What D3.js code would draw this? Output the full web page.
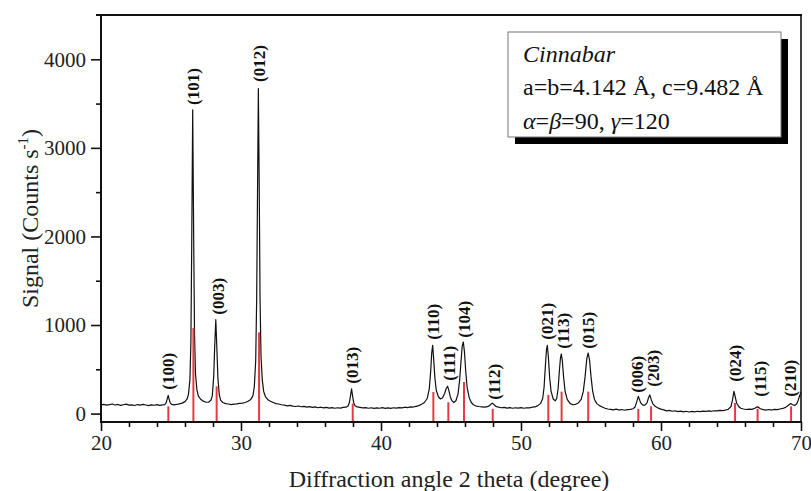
<!DOCTYPE html>
<html><head><meta charset="utf-8">
<script src="https://cdn.jsdelivr.net/npm/d3@7"></script>
<style>body{margin:0;background:#fff}</style></head>
<body><svg id="c" width="811" height="491"></svg>
<script>
// XRD profile: [2theta (deg), signal (counts/s)]
const profile = [
[20.0,98],[20.2,104],[20.4,95],[20.6,101],[20.8,108],[21.0,97],[21.2,103],[21.4,92],[21.6,100],[21.8,106],
[22.0,96],[22.2,99],[22.4,91],[22.6,102],[22.8,95],[23.0,104],[23.2,97],[23.4,90],[23.6,99],[23.8,94],
[24.0,101],[24.2,93],[24.4,98],[24.55,100],[24.65,120],[24.72,160],[24.8,205],[24.88,155],[24.95,118],[25.05,104],
[25.2,98],[25.4,103],[25.6,110],[25.8,118],[26.0,135],[26.15,165],[26.25,220],[26.35,380],[26.42,800],[26.48,1900],
[26.55,3430],[26.62,2000],[26.68,900],[26.75,450],[26.85,270],[26.95,200],[27.1,165],[27.3,140],[27.5,128],[27.7,130],
[27.85,150],[27.95,200],[28.05,420],[28.12,750],[28.2,1060],[28.28,720],[28.35,400],[28.45,210],[28.55,150],[28.7,125],
[28.9,112],[29.1,108],[29.3,102],[29.5,106],[29.7,110],[29.9,115],[30.1,118],[30.3,125],[30.5,140],[30.7,160],
[30.85,200],[30.95,300],[31.05,600],[31.12,1300],[31.18,2500],[31.24,3670],[31.3,2600],[31.36,1300],[31.43,650],[31.52,380],
[31.62,250],[31.75,190],[31.9,160],[32.1,140],[32.3,125],[32.5,112],[32.7,108],[32.9,100],[33.1,95],[33.3,88],
[33.5,92],[33.7,84],[33.9,80],[34.1,86],[34.3,77],[34.5,82],[34.7,73],[34.9,78],[35.1,70],[35.3,76],
[35.5,66],[35.7,72],[35.9,64],[36.1,70],[36.3,62],[36.5,68],[36.7,60],[36.9,66],[37.1,62],[37.3,70],
[37.5,72],[37.65,85],[37.75,130],[37.85,230],[37.9,278],[37.97,200],[38.05,120],[38.15,88],[38.3,75],[38.5,70],
[38.7,64],[38.9,68],[39.1,60],[39.3,66],[39.5,58],[39.7,64],[39.9,60],[40.1,67],[40.3,59],[40.5,64],
[40.7,58],[40.9,66],[41.1,62],[41.3,68],[41.5,64],[41.7,72],[41.9,68],[42.1,76],[42.3,74],[42.5,82],
[42.7,90],[42.9,105],[43.1,125],[43.3,170],[43.45,280],[43.55,480],[43.62,680],[43.69,770],[43.76,620],[43.85,400],
[43.95,260],[44.1,190],[44.25,165],[44.4,180],[44.55,230],[44.65,280],[44.76,308],[44.85,260],[44.95,190],[45.05,150],
[45.2,125],[45.35,145],[45.5,220],[45.62,380],[45.72,600],[45.8,760],[45.88,808],[45.96,700],[46.05,480],[46.15,300],
[46.3,180],[46.45,125],[46.6,100],[46.8,85],[47.0,80],[47.2,76],[47.4,72],[47.6,78],[47.75,90],[47.85,105],
[47.95,118],[48.05,105],[48.2,82],[48.4,72],[48.6,66],[48.8,70],[49.0,62],[49.2,68],[49.4,60],[49.6,66],
[49.8,62],[50.0,68],[50.2,60],[50.4,66],[50.6,64],[50.8,72],[51.0,75],[51.2,90],[51.4,115],[51.55,170],
[51.65,300],[51.75,560],[51.82,720],[51.88,770],[51.95,650],[52.05,400],[52.15,250],[52.3,165],[52.45,145],[52.55,170],
[52.65,280],[52.75,500],[52.82,630],[52.88,673],[52.95,600],[53.05,400],[53.15,250],[53.3,160],[53.5,115],[53.7,100],
[53.9,105],[54.1,120],[54.3,160],[54.45,250],[54.58,420],[54.7,620],[54.8,684],[54.9,600],[55.0,420],[55.12,250],
[55.25,160],[55.4,115],[55.6,90],[55.8,75],[56.0,60],[56.2,52],[56.4,48],[56.6,42],[56.8,50],[57.0,40],
[57.2,46],[57.4,38],[57.6,44],[57.8,48],[58.0,55],[58.15,75],[58.28,140],[58.38,195],[58.46,160],[58.55,120],
[58.7,95],[58.85,95],[59.0,120],[59.1,175],[59.2,211],[59.3,160],[59.42,110],[59.6,80],[59.8,62],[60.0,50],
[60.2,42],[60.4,30],[60.6,36],[60.8,26],[61.0,32],[61.2,22],[61.4,28],[61.6,20],[61.8,26],[62.0,18],
[62.2,24],[62.4,20],[62.6,26],[62.8,22],[63.0,28],[63.2,24],[63.4,30],[63.6,26],[63.8,32],[64.0,30],
[64.2,36],[64.4,34],[64.6,40],[64.8,48],[65.0,80],[65.1,150],[65.21,252],[65.3,190],[65.4,120],[65.55,80],
[65.7,60],[65.9,52],[66.1,46],[66.3,50],[66.5,48],[66.7,60],[66.85,75],[66.95,72],[67.1,55],[67.3,45],
[67.5,40],[67.7,46],[67.9,40],[68.1,48],[68.3,44],[68.5,52],[68.7,58],[68.9,70],[69.1,95],[69.26,113],
[69.4,100],[69.55,92],[69.7,110],[69.8,150],[69.9,200],[70.0,240]
];

// Reference (stick) pattern and Miller indices
const hkl       = ["(100)","(101)","(003)","(012)","(013)","(110)","(111)","(104)","(112)","(021)","(113)","(015)","(006)","(203)","(024)","(115)","(210)"];
const stickPos  = [24.81, 26.6, 28.26, 31.29, 37.98, 43.74, 44.81, 45.93, 47.98, 51.95, 52.9, 54.8, 58.38, 59.29, 65.29, 66.9, 69.29];
const stickInt  = [82, 966, 308, 917, 113, 244, 128, 357, 53, 211, 248, 248, 53, 82, 120, 53, 82];
// label anchors (2theta, counts at label start)
const labelPos  = [24.79, 26.57, 28.36, 31.29, 37.93, 43.71, 44.86, 45.93, 48.07, 51.84, 52.98, 54.81, 58.31, 59.45, 65.29, 67.07, 69.21];
const labelBase = [269, 3485, 1116, 3744, 337, 834, 371, 856, 157, 834, 732, 732, 236, 303, 360, 190, 190];

const xTicks = [20, 30, 40, 50, 60, 70];
const xMinor = [22, 24, 26, 28, 32, 34, 36, 38, 42, 44, 46, 48, 52, 54, 56, 58, 62, 64, 66, 68];
const yTicks = [0, 1000, 2000, 3000, 4000];
const yMinor = [500, 1500, 2500, 3500];

const xTitle = "Diffraction angle 2 theta (degree)";
const legendTitle = "Cinnabar";
const legendLine2 = "a=b=4.142 Å, c=9.482 Å";

const W = 811, H = 491;
const m = {l: 101, t: 15, r: 10, b: 69};
const iw = W - m.l - m.r, ih = H - m.t - m.b;
const serif = "'Liberation Serif','Times New Roman',serif";

const svg = d3.select("#c");
const g = svg.append("g").attr("transform", `translate(${m.l},${m.t})`);

const x = d3.scaleLinear().domain([20, 70]).range([0, iw]);
const y = d3.scaleLinear().domain([-95, 4500]).range([ih, 0]);

// profile line
const line = d3.line().x(d => x(d[0])).y(d => y(d[1]));
g.append("path").datum(profile).attr("d", line)
  .attr("fill", "none").attr("stroke", "#111").attr("stroke-width", 1.2).attr("stroke-linejoin", "round");

// sticks
g.selectAll("line.stick").data(stickPos).join("line").attr("class", "stick")
  .attr("x1", d => x(d)).attr("x2", d => x(d))
  .attr("y1", y(-95)).attr("y2", (d, i) => y(stickInt[i]))
  .attr("stroke", "#e53a43").attr("stroke-width", 2);

// peak labels
g.selectAll("text.hkl").data(hkl).join("text").attr("class", "hkl")
  .attr("transform", (d, i) => `translate(${x(labelPos[i])},${y(labelBase[i])}) rotate(-90)`)
  .attr("dy", "0.35em")
  .attr("font-family", serif).attr("font-weight", "bold").attr("font-size", 17)
  .attr("fill", "#111").text(d => d);

// axes
const ax = d3.axisBottom(x).tickValues(xTicks).tickSize(9).tickPadding(4).tickFormat(d3.format("d"));
const axg = g.append("g").attr("transform", `translate(0,${ih})`).call(ax);
g.append("g").attr("transform", `translate(0,${ih})`)
  .call(d3.axisBottom(x).tickValues(xMinor).tickSize(5).tickFormat(""))
  .call(s => s.select(".domain").remove());
const ay = d3.axisLeft(y).tickValues(yTicks).tickSize(10).tickPadding(5).tickFormat(d3.format("d"));
const ayg = g.append("g").call(ay);
g.append("g").call(d3.axisLeft(y).tickValues(yMinor).tickSize(5).tickFormat(""))
  .call(s => s.select(".domain").remove());
g.selectAll(".domain").remove();
g.selectAll(".tick line").attr("stroke", "#111").attr("stroke-width", 1.6);
g.selectAll(".tick text").attr("font-family", serif).attr("font-size", 21).attr("fill", "#222");

// frame
g.append("line").attr("x1", 0).attr("x2", 0).attr("y1", -1).attr("y2", ih + 1).attr("stroke", "#111").attr("stroke-width", 2);
g.append("line").attr("x1", -1).attr("x2", iw + 1).attr("y1", ih).attr("y2", ih).attr("stroke", "#111").attr("stroke-width", 2);
g.append("line").attr("x1", -5).attr("x2", iw + 1).attr("y1", 0).attr("y2", 0).attr("stroke", "#111").attr("stroke-width", 2.2);
g.append("line").attr("x1", iw).attr("x2", iw).attr("y1", 0).attr("y2", ih).attr("stroke", "#111").attr("stroke-width", 1.6);

// axis titles
svg.append("text").attr("x", m.l + iw / 2 - 2).attr("y", 487)
  .attr("text-anchor", "middle").attr("font-family", serif).attr("font-size", 24).attr("fill", "#222")
  .text(xTitle);
const yt = svg.append("text").attr("transform", `translate(38,${m.t + ih / 2}) rotate(-90)`)
  .attr("text-anchor", "middle").attr("font-family", serif).attr("font-size", 24).attr("fill", "#222");
yt.append("tspan").text("Signal (Counts s");
yt.append("tspan").attr("font-size", 15).attr("dy", -10).text("-1");
yt.append("tspan").attr("dy", 10).text(")");

// legend box with shadow
const lx = 508, ly = 32, lw = 273, lh = 105;
svg.append("rect").attr("x", lx + 7).attr("y", ly + 7).attr("width", lw).attr("height", lh).attr("fill", "#000");
svg.append("rect").attr("x", lx).attr("y", ly).attr("width", lw).attr("height", lh)
  .attr("fill", "#fff").attr("stroke", "#777").attr("stroke-width", 1);
svg.append("text").attr("x", 523).attr("y", 62).attr("font-family", serif).attr("font-style", "italic")
  .attr("font-size", 24).attr("fill", "#111").text(legendTitle);
svg.append("text").attr("x", 523).attr("y", 95).attr("font-family", serif)
  .attr("font-size", 24).attr("fill", "#111").text(legendLine2);
const l3 = svg.append("text").attr("x", 523).attr("y", 129).attr("font-family", serif)
  .attr("font-size", 24).attr("fill", "#111");
l3.append("tspan").attr("font-style", "italic").text("α");
l3.append("tspan").text("=");
l3.append("tspan").attr("font-style", "italic").text("β");
l3.append("tspan").text("=90, ");
l3.append("tspan").attr("font-style", "italic").text("γ");
l3.append("tspan").text("=120");
</script></body></html>
